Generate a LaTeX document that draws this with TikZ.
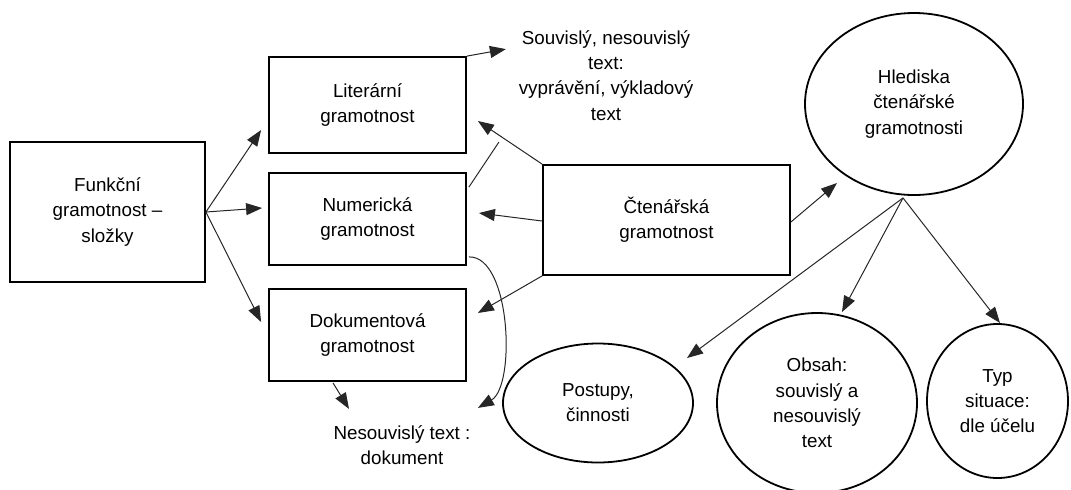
\documentclass[tikz,border=0pt]{standalone}
\usepackage{fontspec}
\setmainfont{Liberation Sans}
\usetikzlibrary{arrows.meta,shapes.geometric}
\tikzset {>={Triangle[length=8pt,width=6pt]}}
\tikzset{
  box/.style={draw,line width=0.9pt,align=center,inner sep=0pt},
  bubble/.style={draw,ellipse,line width=0.9pt,align=center,inner sep=0pt},
  note/.style={align=center,inner sep=0pt},
  conn/.style={line width=0.5pt,black!85}
}

\begin{document}
\begin{tikzpicture}[x=0.5pt,y=-0.5pt,font=\fontsize{9.4pt}{12.6pt}\selectfont]
\useasboundingbox (0,0) rectangle (1071,489);
% left column
\node[box,minimum width=97.5pt,minimum height=70pt] (funk) at (107.5,212) {Funkční\\gramotnost –\\složky};
\node[box,minimum width=98.5pt,minimum height=48pt] (lit) at (367.5,105) {Literární\\gramotnost};
\node[box,minimum width=98.5pt,minimum height=46pt] (num) at (367.5,219) {Numerická\\gramotnost};
\node[box,minimum width=98.5pt,minimum height=46pt] (dok) at (367.5,335) {Dokumentová\\gramotnost};
\node[box,minimum width=123.5pt,minimum height=55pt] (cten) at (666.5,220) {Čtenářská\\gramotnost};
% free texts
\node[note] (souv) at (606,75.5) {Souvislý, nesouvislý\\text:\\vyprávění, výkladový\\text};
\node[note] (nes) at (402,445.5) {Nesouvislý text :\\dokument};
% ellipses
\node[bubble,minimum width=109pt,minimum height=91pt] (hled) at (914,104) {Hlediska\\čtenářské\\gramotnosti};
\node[bubble,minimum width=95pt,minimum height=59.5pt] (post) at (598,403) {Postupy,\\činnosti};
\node[bubble,minimum width=100pt,minimum height=90pt] (obs) at (817,403) {Obsah:\\souvislý a\\nesouvislý\\text};
\node[bubble,minimum width=70.5pt,minimum height=77pt] (typ) at (997.5,401) {Typ\\situace:\\dle účelu};
\coordinate (hb) at ([shift={(-11,2)}]hled.south);
% connectors
\draw[conn,->] (funk.east) -- ([shift={(-7,25)}]lit.west);
\draw[conn,->] (funk.east) -- ([shift={(-6,-11)}]num.west);
\draw[conn,->] (funk.east) -- ([shift={(-7,-13)}]dok.west);
\draw[conn,->] (lit.north east) -- ([shift={(39,-7)}]lit.north east);
\draw[conn] ([shift={(2,15)}]num.north east) -- ([shift={(32,-30)}]num.north east);
\draw[conn,->] (cten.north west) -- ([shift={(11,16)}]lit.east);
\draw[conn,->] ([yshift=-0.5pt]cten.west) -- ([shift={(12,-6)}]num.east);
\draw[conn,->] (cten.south west) -- ([shift={(11,-22)}]dok.east);
\draw[conn,->] ([yshift=-1pt]cten.east) -- ([shift={(-77,79)}]hled.center);
\draw[conn,->] (hb) -- ([shift={(89,-45)}]post.center);
\draw[conn,->] (hb) -- ([shift={(25,-91)}]obs.center);
\draw[conn,->] (hb) -- ([shift={(2.5,-78)}]typ.center);
\draw[conn,->] ([shift={(-34.5,1)}]dok.south) -- ([shift={(-18.5,27)}]dok.south);
\draw[conn,->] ([shift={(2,-9)}]num.south east) .. controls +(42,-1) and +(38,-22) .. ([shift={(11,142)}]num.south east);
\end{tikzpicture}
\end{document}
